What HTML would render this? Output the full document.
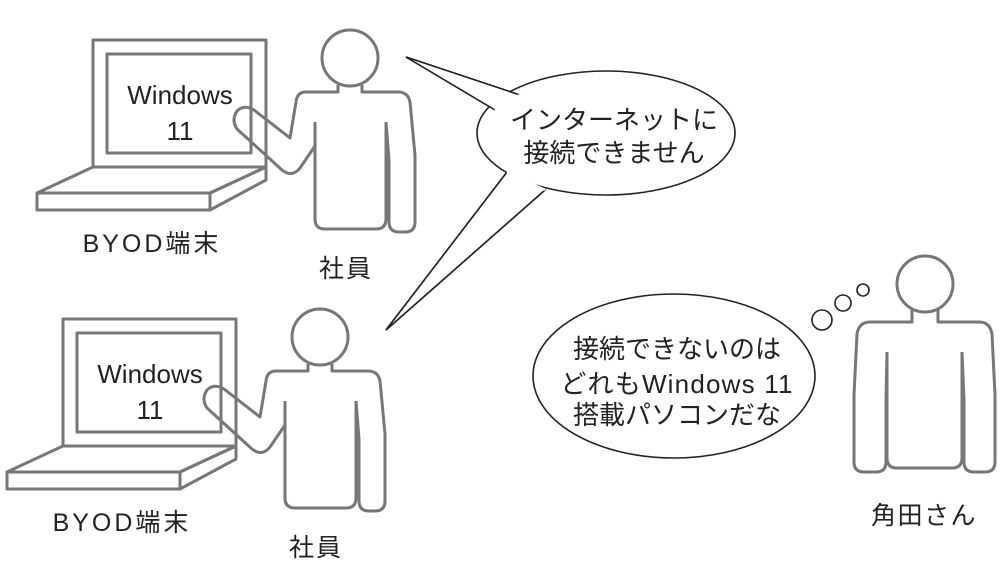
<!DOCTYPE html>
<html><head><meta charset="utf-8"><style>
html,body{margin:0;padding:0;background:#fff;}
svg{display:block;}
text{font-family:"Liberation Sans","Noto Sans CJK JP",sans-serif;fill:#222;}
</style></head><body>
<svg width="1000" height="562" viewBox="0 0 1000 562" xmlns="http://www.w3.org/2000/svg">
<defs>
<g id="grp">
  <g fill="none" stroke="#777" stroke-width="3" stroke-linejoin="round">
    <rect x="93" y="40" width="173" height="127"/>
    <rect x="107" y="54" width="144" height="99"/>
    <polygon points="37,193 93,167 266,167 210,193"/>
    <rect x="37" y="193" width="173" height="17"/>
    <polygon points="210,193 266,167 266,180 210,210"/>
    <circle cx="350" cy="58" r="28"/>
    <path d="M338 85 V92 H306 Q297 92 296 102 L290 138 L254 110 Q244 104 237 111 Q231 120 237 129 L282 170 Q292 178 300 168 L315 146"/>
    <path d="M315 122 V219 Q315 229 325 229 H376 Q386 229 386 219 V122"/>
    <path d="M386 122 L389 160 V222 Q389 232 399 232 H405 Q415 232 415 222 V155 L410 102 Q408 92 398 92 H362 V85"/>
  </g>
  <text x="180" y="104" font-size="26" text-anchor="middle">Windows</text>
  <text x="180" y="140" font-size="26" text-anchor="middle">11</text>
  <text x="152" y="252" font-size="25" text-anchor="middle" letter-spacing="3">BYOD端末</text>
  <text x="346" y="277" font-size="25" text-anchor="middle" letter-spacing="2">社員</text>
</g>
</defs>
<use href="#grp"/>
<use href="#grp" transform="translate(-30,279)"/>

<!-- speech bubble -->
<g fill="#fff" stroke="#222" stroke-width="1.6" stroke-linejoin="miter">
  <polygon points="406,57 520,95 495,110"/>
  <polygon points="386,330 507,172 545,190"/>
  <ellipse cx="606" cy="133" rx="129" ry="62"/>
</g>
<g fill="#fff" stroke="none">
  <polygon points="406,57 520,95 495,110"/>
  <polygon points="386,330 507,172 545,190"/>
</g>
<path d="M406 57 L520 95 M406 57 L495 110 M386 330 L507 172 M386 330 L545 190" stroke="#222" stroke-width="1.6" fill="none"/>
<path d="M495 110 L520 95 M507 172 L545 190" stroke="#fff" stroke-width="2.5" fill="none"/>
<text x="614" y="129" font-size="26" text-anchor="middle">インターネットに</text>
<text x="614" y="162" font-size="26" text-anchor="middle">接続できません</text>

<!-- thought bubble -->
<ellipse cx="674" cy="376" rx="141" ry="82" fill="#fff" stroke="#222" stroke-width="1.6"/>
<circle cx="822" cy="320" r="10" fill="#fff" stroke="#222" stroke-width="1.6"/>
<circle cx="843" cy="303" r="8" fill="#fff" stroke="#222" stroke-width="1.6"/>
<circle cx="863" cy="290" r="6" fill="#fff" stroke="#222" stroke-width="1.6"/>
<text x="677" y="358" font-size="26" text-anchor="middle">接続できないのは</text>
<text x="677" y="393" font-size="26" text-anchor="middle" letter-spacing="1.2">どれもWindows 11</text>
<text x="677" y="424" font-size="26" text-anchor="middle">搭載パソコンだな</text>

<!-- 角田さん -->
<g fill="none" stroke="#777" stroke-width="3" stroke-linejoin="round">
  <circle cx="925" cy="284" r="28"/>
  <path d="M912 310 V322 H870 Q859 322 857 334 L854 395 V462 Q854 472 864 472 H876 Q886 472 886 462 V400 L887 352"/>
  <path d="M887 352 V458 Q887 468 897 468 H952 Q962 468 962 458 V352"/>
  <path d="M962 352 L964 400 V462 Q964 472 974 472 H985 Q995 472 995 462 V395 L992 334 Q990 322 979 322 H938 V310"/>
</g>
<text x="924" y="524" font-size="25" text-anchor="middle" letter-spacing="1.5">角田さん</text>
</svg>
</body></html>
